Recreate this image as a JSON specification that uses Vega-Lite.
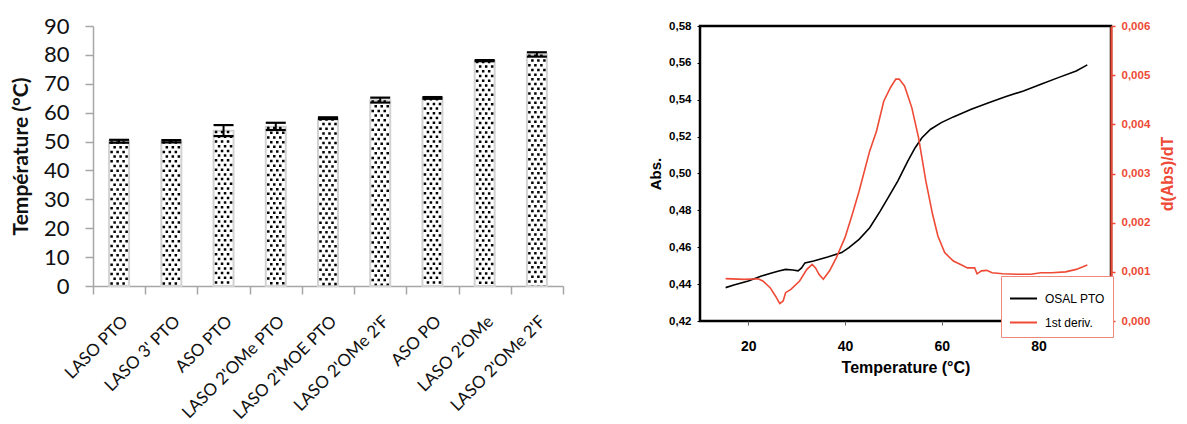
{
  "$schema": "https://vega.github.io/schema/vega-lite/v6.json",
  "padding": {"left": 10, "top": 15, "right": 2, "bottom": 2},
  "spacing": 83,
  "background": "white",
  "config": {"view": {"stroke": null}},
  "datasets": {
    "bars": [
      {"cat": "LASO PTO", "value": 50.1, "lo": 49.6, "hi": 50.6},
      {"cat": "LASO 3' PTO", "value": 50.1, "lo": 49.7, "hi": 50.5},
      {"cat": "ASO PTO", "value": 53.7, "lo": 51.9, "hi": 55.7},
      {"cat": "LASO 2'OMe PTO", "value": 55.1, "lo": 54.0, "hi": 56.5},
      {"cat": "LASO 2'MOE PTO", "value": 58.1, "lo": 57.8, "hi": 58.4},
      {"cat": "LASO 2'OMe 2'F", "value": 64.3, "lo": 63.5, "hi": 65.2},
      {"cat": "ASO PO", "value": 65.1, "lo": 64.8, "hi": 65.4},
      {"cat": "LASO 2'OMe", "value": 78.0, "lo": 77.8, "hi": 78.2},
      {"cat": "LASO 2'OMe 2'F\u200b", "value": 80.1, "lo": 79.4, "hi": 80.9}
    ],
    "absData": [
      {"T": 15.3, "v": 0.4381, "series": "OSAL PTO"},
      {"T": 17.0, "v": 0.4395, "series": "OSAL PTO"},
      {"T": 20.0, "v": 0.4417, "series": "OSAL PTO"},
      {"T": 22.7, "v": 0.4444, "series": "OSAL PTO"},
      {"T": 25.0, "v": 0.4462, "series": "OSAL PTO"},
      {"T": 26.3, "v": 0.4471, "series": "OSAL PTO"},
      {"T": 27.7, "v": 0.4480, "series": "OSAL PTO"},
      {"T": 29.2, "v": 0.4477, "series": "OSAL PTO"},
      {"T": 30.3, "v": 0.4472, "series": "OSAL PTO"},
      {"T": 31.0, "v": 0.4488, "series": "OSAL PTO"},
      {"T": 31.7, "v": 0.4515, "series": "OSAL PTO"},
      {"T": 33.5, "v": 0.4525, "series": "OSAL PTO"},
      {"T": 36.4, "v": 0.4547, "series": "OSAL PTO"},
      {"T": 39.3, "v": 0.4571, "series": "OSAL PTO"},
      {"T": 40.8, "v": 0.4598, "series": "OSAL PTO"},
      {"T": 42.9, "v": 0.4643, "series": "OSAL PTO"},
      {"T": 45.1, "v": 0.4706, "series": "OSAL PTO"},
      {"T": 47.3, "v": 0.4797, "series": "OSAL PTO"},
      {"T": 48.7, "v": 0.4860, "series": "OSAL PTO"},
      {"T": 50.9, "v": 0.4959, "series": "OSAL PTO"},
      {"T": 53.0, "v": 0.5068, "series": "OSAL PTO"},
      {"T": 54.5, "v": 0.5140, "series": "OSAL PTO"},
      {"T": 55.9, "v": 0.5194, "series": "OSAL PTO"},
      {"T": 57.7, "v": 0.5240, "series": "OSAL PTO"},
      {"T": 59.9, "v": 0.5276, "series": "OSAL PTO"},
      {"T": 62.4, "v": 0.5307, "series": "OSAL PTO"},
      {"T": 66.1, "v": 0.5348, "series": "OSAL PTO"},
      {"T": 69.7, "v": 0.5384, "series": "OSAL PTO"},
      {"T": 73.3, "v": 0.5417, "series": "OSAL PTO"},
      {"T": 76.9, "v": 0.5448, "series": "OSAL PTO"},
      {"T": 80.5, "v": 0.5484, "series": "OSAL PTO"},
      {"T": 84.1, "v": 0.5520, "series": "OSAL PTO"},
      {"T": 87.8, "v": 0.5556, "series": "OSAL PTO"},
      {"T": 90.1, "v": 0.5589, "series": "OSAL PTO"}
    ],
    "derivData": [
      {"T": 15.3, "d": 0.000861, "series": "1st deriv."},
      {"T": 19.1, "d": 0.000847, "series": "1st deriv."},
      {"T": 22.0, "d": 0.000860, "series": "1st deriv."},
      {"T": 23.0, "d": 0.000814, "series": "1st deriv."},
      {"T": 24.5, "d": 0.000678, "series": "1st deriv."},
      {"T": 25.6, "d": 0.000509, "series": "1st deriv."},
      {"T": 26.5, "d": 0.000353, "series": "1st deriv."},
      {"T": 27.2, "d": 0.000407, "series": "1st deriv."},
      {"T": 27.7, "d": 0.000576, "series": "1st deriv."},
      {"T": 28.8, "d": 0.000644, "series": "1st deriv."},
      {"T": 30.6, "d": 0.000814, "series": "1st deriv."},
      {"T": 32.1, "d": 0.00105, "series": "1st deriv."},
      {"T": 33.2, "d": 0.00115, "series": "1st deriv."},
      {"T": 33.9, "d": 0.00108, "series": "1st deriv."},
      {"T": 34.6, "d": 0.00095, "series": "1st deriv."},
      {"T": 35.5, "d": 0.000848, "series": "1st deriv."},
      {"T": 36.8, "d": 0.00102, "series": "1st deriv."},
      {"T": 38.2, "d": 0.00129, "series": "1st deriv."},
      {"T": 40.0, "d": 0.00170, "series": "1st deriv."},
      {"T": 41.5, "d": 0.00217, "series": "1st deriv."},
      {"T": 42.9, "d": 0.00264, "series": "1st deriv."},
      {"T": 45.1, "d": 0.00346, "series": "1st deriv."},
      {"T": 46.5, "d": 0.00386, "series": "1st deriv."},
      {"T": 48.0, "d": 0.00447, "series": "1st deriv."},
      {"T": 49.4, "d": 0.00475, "series": "1st deriv."},
      {"T": 50.5, "d": 0.00492, "series": "1st deriv."},
      {"T": 51.2, "d": 0.00492, "series": "1st deriv."},
      {"T": 52.3, "d": 0.00478, "series": "1st deriv."},
      {"T": 53.8, "d": 0.00434, "series": "1st deriv."},
      {"T": 55.2, "d": 0.00373, "series": "1st deriv."},
      {"T": 56.7, "d": 0.00285, "series": "1st deriv."},
      {"T": 58.1, "d": 0.00217, "series": "1st deriv."},
      {"T": 59.2, "d": 0.00173, "series": "1st deriv."},
      {"T": 60.6, "d": 0.00139, "series": "1st deriv."},
      {"T": 62.4, "d": 0.00122, "series": "1st deriv."},
      {"T": 63.9, "d": 0.00115, "series": "1st deriv."},
      {"T": 65.3, "d": 0.00108, "series": "1st deriv."},
      {"T": 66.8, "d": 0.00108, "series": "1st deriv."},
      {"T": 67.3, "d": 0.00096, "series": "1st deriv."},
      {"T": 68.2, "d": 0.00102, "series": "1st deriv."},
      {"T": 69.3, "d": 0.00103, "series": "1st deriv."},
      {"T": 70.4, "d": 0.00098, "series": "1st deriv."},
      {"T": 72.6, "d": 0.00096, "series": "1st deriv."},
      {"T": 75.5, "d": 0.00095, "series": "1st deriv."},
      {"T": 78.4, "d": 0.00095, "series": "1st deriv."},
      {"T": 80.5, "d": 0.00098, "series": "1st deriv."},
      {"T": 82.7, "d": 0.00098, "series": "1st deriv."},
      {"T": 85.6, "d": 0.00100, "series": "1st deriv."},
      {"T": 87.8, "d": 0.00105, "series": "1st deriv."},
      {"T": 90.1, "d": 0.00114, "series": "1st deriv."}
    ]
  },
  "hconcat": [
    {
      "width": 470,
      "height": 260,
      "data": {"name": "bars"},
      "encoding": {
        "x": {"field": "cat", "type": "nominal", "sort": null,
          "scale": {"paddingInner": 0, "paddingOuter": 0},
          "axis": {"title": null, "labelAngle": -45, "labelFont": "Lato", "labelFontSize": 17, "labelColor": "#111",
            "tickBand": "extent", "tickSize": 8, "tickColor": "#a6a6a6", "tickWidth": 1.5,
            "domainColor": "#a6a6a6", "domainWidth": 1.5, "labelPadding": 19}}
      },
      "layer": [
        {
          "mark": {"type": "bar", "size": 20, "fill": "white", "stroke": "#d2d2d2", "strokeWidth": 2},
          "encoding": {
            "y": {"field": "value", "type": "quantitative", "title": "Température (°C)",
              "scale": {"domain": [0, 90], "nice": false},
              "axis": {"titleFont": "Lato", "titleFontSize": 21, "titleFontWeight": "bold", "titleColor": "#111",
                "values": [0, 10, 20, 30, 40, 50, 60, 70, 80, 90], "labelOverlap": false, "labelFont": "Lato", "labelFontSize": 22, "labelColor": "#111",
                "grid": false, "tickSize": 8, "tickColor": "#a6a6a6", "tickWidth": 1.5, "domainColor": "#a6a6a6", "domainWidth": 1.5,
                "labelPadding": 16, "titlePadding": 12}}
          }
        },
        {"mark": {"type": "rule", "xOffset": -7.5, "strokeWidth": 2.5, "strokeDash": [2.5, 6.9], "strokeDashOffset": 0, "color": "black"},
          "encoding": {"y": {"field": "value", "type": "quantitative", "title": "Température (°C)",
              "axis": {"titleFont": "Lato", "titleFontSize": 21, "titleFontWeight": "bold", "titleColor": "#111",
                "values": [0, 10, 20, 30, 40, 50, 60, 70, 80, 90], "labelOverlap": false, "labelFont": "Lato", "labelFontSize": 22, "labelColor": "#111",
                "grid": false, "tickSize": 8, "tickColor": "#a6a6a6", "tickWidth": 1.5, "domainColor": "#a6a6a6", "domainWidth": 1.5,
                "labelPadding": 16, "titlePadding": 12}}, "y2": {"datum": 0.3}}},
        {"mark": {"type": "rule", "xOffset": -4.5, "strokeWidth": 2.5, "strokeDash": [2.5, 6.9], "strokeDashOffset": 4.7, "color": "black"},
          "encoding": {"y": {"field": "value", "type": "quantitative", "title": "Température (°C)",
              "axis": {"titleFont": "Lato", "titleFontSize": 21, "titleFontWeight": "bold", "titleColor": "#111",
                "values": [0, 10, 20, 30, 40, 50, 60, 70, 80, 90], "labelOverlap": false, "labelFont": "Lato", "labelFontSize": 22, "labelColor": "#111",
                "grid": false, "tickSize": 8, "tickColor": "#a6a6a6", "tickWidth": 1.5, "domainColor": "#a6a6a6", "domainWidth": 1.5,
                "labelPadding": 16, "titlePadding": 12}}, "y2": {"datum": 0.3}}},
        {"mark": {"type": "rule", "xOffset": -1.5, "strokeWidth": 2.5, "strokeDash": [2.5, 6.9], "strokeDashOffset": 0, "color": "black"},
          "encoding": {"y": {"field": "value", "type": "quantitative", "title": "Température (°C)",
              "axis": {"titleFont": "Lato", "titleFontSize": 21, "titleFontWeight": "bold", "titleColor": "#111",
                "values": [0, 10, 20, 30, 40, 50, 60, 70, 80, 90], "labelOverlap": false, "labelFont": "Lato", "labelFontSize": 22, "labelColor": "#111",
                "grid": false, "tickSize": 8, "tickColor": "#a6a6a6", "tickWidth": 1.5, "domainColor": "#a6a6a6", "domainWidth": 1.5,
                "labelPadding": 16, "titlePadding": 12}}, "y2": {"datum": 0.3}}},
        {"mark": {"type": "rule", "xOffset": 1.5, "strokeWidth": 2.5, "strokeDash": [2.5, 6.9], "strokeDashOffset": 4.7, "color": "black"},
          "encoding": {"y": {"field": "value", "type": "quantitative", "title": "Température (°C)",
              "axis": {"titleFont": "Lato", "titleFontSize": 21, "titleFontWeight": "bold", "titleColor": "#111",
                "values": [0, 10, 20, 30, 40, 50, 60, 70, 80, 90], "labelOverlap": false, "labelFont": "Lato", "labelFontSize": 22, "labelColor": "#111",
                "grid": false, "tickSize": 8, "tickColor": "#a6a6a6", "tickWidth": 1.5, "domainColor": "#a6a6a6", "domainWidth": 1.5,
                "labelPadding": 16, "titlePadding": 12}}, "y2": {"datum": 0.3}}},
        {"mark": {"type": "rule", "xOffset": 4.5, "strokeWidth": 2.5, "strokeDash": [2.5, 6.9], "strokeDashOffset": 0, "color": "black"},
          "encoding": {"y": {"field": "value", "type": "quantitative", "title": "Température (°C)",
              "axis": {"titleFont": "Lato", "titleFontSize": 21, "titleFontWeight": "bold", "titleColor": "#111",
                "values": [0, 10, 20, 30, 40, 50, 60, 70, 80, 90], "labelOverlap": false, "labelFont": "Lato", "labelFontSize": 22, "labelColor": "#111",
                "grid": false, "tickSize": 8, "tickColor": "#a6a6a6", "tickWidth": 1.5, "domainColor": "#a6a6a6", "domainWidth": 1.5,
                "labelPadding": 16, "titlePadding": 12}}, "y2": {"datum": 0.3}}},
        {"mark": {"type": "rule", "xOffset": 7.5, "strokeWidth": 2.5, "strokeDash": [2.5, 6.9], "strokeDashOffset": 4.7, "color": "black"},
          "encoding": {"y": {"field": "value", "type": "quantitative", "title": "Température (°C)",
              "axis": {"titleFont": "Lato", "titleFontSize": 21, "titleFontWeight": "bold", "titleColor": "#111",
                "values": [0, 10, 20, 30, 40, 50, 60, 70, 80, 90], "labelOverlap": false, "labelFont": "Lato", "labelFontSize": 22, "labelColor": "#111",
                "grid": false, "tickSize": 8, "tickColor": "#a6a6a6", "tickWidth": 1.5, "domainColor": "#a6a6a6", "domainWidth": 1.5,
                "labelPadding": 16, "titlePadding": 12}}, "y2": {"datum": 0.3}}},
        {"mark": {"type": "rule", "strokeWidth": 2, "color": "black"},
          "encoding": {"y": {"field": "lo", "type": "quantitative", "title": "Température (°C)",
              "axis": {"titleFont": "Lato", "titleFontSize": 21, "titleFontWeight": "bold", "titleColor": "#111",
                "values": [0, 10, 20, 30, 40, 50, 60, 70, 80, 90], "labelOverlap": false, "labelFont": "Lato", "labelFontSize": 22, "labelColor": "#111",
                "grid": false, "tickSize": 8, "tickColor": "#a6a6a6", "tickWidth": 1.5, "domainColor": "#a6a6a6", "domainWidth": 1.5,
                "labelPadding": 16, "titlePadding": 12}}, "y2": {"field": "hi"}}},
        {"mark": {"type": "tick", "size": 20, "thickness": 2.2, "color": "black", "opacity": 1},
          "encoding": {"y": {"field": "hi", "type": "quantitative", "title": "Température (°C)",
              "axis": {"titleFont": "Lato", "titleFontSize": 21, "titleFontWeight": "bold", "titleColor": "#111",
                "values": [0, 10, 20, 30, 40, 50, 60, 70, 80, 90], "labelOverlap": false, "labelFont": "Lato", "labelFontSize": 22, "labelColor": "#111",
                "grid": false, "tickSize": 8, "tickColor": "#a6a6a6", "tickWidth": 1.5, "domainColor": "#a6a6a6", "domainWidth": 1.5,
                "labelPadding": 16, "titlePadding": 12}}}},
        {"mark": {"type": "tick", "size": 20, "thickness": 2.2, "color": "black", "opacity": 1},
          "encoding": {"y": {"field": "lo", "type": "quantitative", "title": "Température (°C)",
              "axis": {"titleFont": "Lato", "titleFontSize": 21, "titleFontWeight": "bold", "titleColor": "#111",
                "values": [0, 10, 20, 30, 40, 50, 60, 70, 80, 90], "labelOverlap": false, "labelFont": "Lato", "labelFontSize": 22, "labelColor": "#111",
                "grid": false, "tickSize": 8, "tickColor": "#a6a6a6", "tickWidth": 1.5, "domainColor": "#a6a6a6", "domainWidth": 1.5,
                "labelPadding": 16, "titlePadding": 12}}}}
      ]
    },
    {
      "width": 411,
      "height": 295,
      "view": {"stroke": "black", "strokeWidth": 2.5},
      "encoding": {
        "x": {"field": "T", "type": "quantitative", "scale": {"domain": [10, 95], "nice": false},
          "axis": {"title": "Temperature (°C)", "titleFont": "Liberation Sans", "titleFontSize": 16, "titleFontWeight": "bold", "titleColor": "black",
            "values": [20, 40, 60, 80], "labelFont": "Liberation Sans", "labelFontSize": 14, "labelFontWeight": "bold", "labelColor": "black",
            "grid": false, "domain": false, "tickSize": 4, "tickColor": "#666", "tickWidth": 1, "labelPadding": 14, "titlePadding": 6}}
      },
      "layer": [
        {
          "data": {"name": "absData"},
          "mark": {"type": "line", "strokeWidth": 1.6, "clip": true},
          "encoding": {
            "y": {"field": "v", "type": "quantitative", "scale": {"domain": [0.42, 0.58], "nice": false, "zero": false},
              "axis": {"title": "Abs.", "titleFont": "Liberation Sans", "titleFontSize": 15, "titleFontWeight": "bold", "titleColor": "black",
                "values": [0.42, 0.44, 0.46, 0.48, 0.5, 0.52, 0.54, 0.56, 0.58], "labelExpr": "replace(format(datum.value, '.2f'), '.', ',')",
                "labelFont": "Liberation Sans", "labelFontSize": 11.5, "labelFontWeight": "bold", "labelColor": "black",
                "grid": false, "domain": false, "tickSize": 3, "tickColor": "black", "labelPadding": 6, "titlePadding": 5}},
            "color": {"field": "series", "type": "nominal",
              "scale": {"domain": ["OSAL PTO", "1st deriv."], "range": ["black", "#ee4a36"]},
              "legend": {"title": null, "orient": "none", "legendX": 908, "legendY": 250, "fillColor": "white", "strokeColor": "#f0877c",
                "padding": 8, "symbolType": "stroke", "symbolSize": 729, "symbolStrokeWidth": 2, "labelFont": "Liberation Sans",
                "labelFontSize": 12, "labelColor": "black", "labelOffset": 7, "rowPadding": 3}}
          }
        },
        {
          "data": {"name": "derivData"},
          "mark": {"type": "line", "strokeWidth": 1.6, "clip": true},
          "encoding": {
            "y": {"field": "d", "type": "quantitative", "scale": {"domain": [0, 0.006], "nice": false},
              "axis": {"orient": "right", "title": "d(Abs)/dT", "titleAngle": 270, "titleFont": "Liberation Sans", "titleFontSize": 16, "titleFontWeight": "bold", "titleColor": "#ee4a36",
                "values": [0, 0.001, 0.002, 0.003, 0.004, 0.005, 0.006], "labelExpr": "replace(format(datum.value, '.3f'), '.', ',')",
                "labelFont": "Liberation Sans", "labelFontSize": 11.5, "labelFontWeight": "bold", "labelColor": "#ee4a36",
                "grid": false, "domain": true, "domainColor": "#ee4a36", "domainWidth": 2.2, "tickSize": 4, "tickColor": "#ee4a36", "tickWidth": 1.5, "labelPadding": 6, "titlePadding": 26}},
            "color": {"field": "series", "type": "nominal",
              "scale": {"domain": ["OSAL PTO", "1st deriv."], "range": ["black", "#ee4a36"]}}
          }
        }
      ],
      "resolve": {"scale": {"y": "independent"}, "axis": {"y": "independent"}}
    }
  ]
}
